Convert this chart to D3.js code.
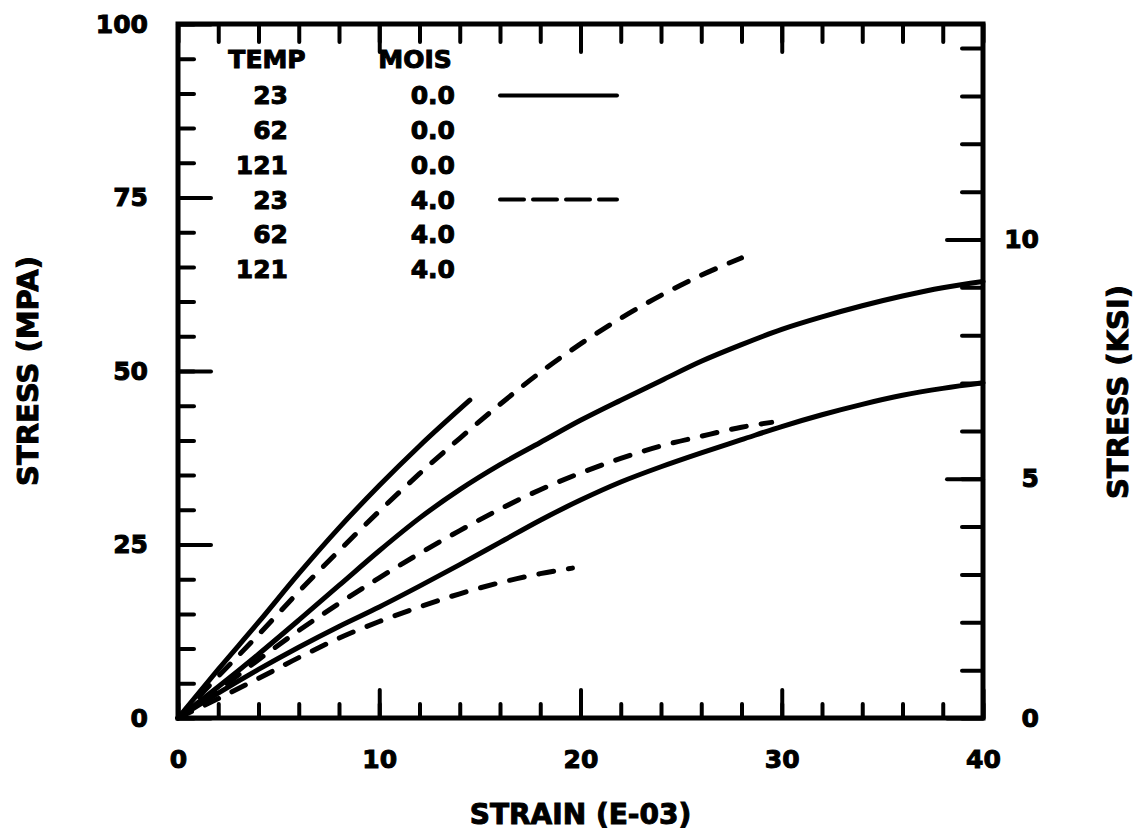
<!DOCTYPE html>
<html>
<head>
<meta charset="utf-8">
<script src="https://cdn.jsdelivr.net/npm/d3@7"></script>
<style>
  body { margin: 0; background: #fff; }
  svg text { font-family: "DejaVu Sans", sans-serif; font-weight: bold; fill: #000; stroke: #000; stroke-width: 1px; }
</style>
</head>
<body>
<svg id="chart" width="1141" height="837"></svg>
<script>
// ---------------- DATA ----------------
// each curve: [strain (E-03), stress (MPa)]
const temps = [23, 62, 121, 23, 62, 121];
const moisture = ["0.0", "0.0", "0.0", "4.0", "4.0", "4.0"];

const dry23 = [[0,0],[2,7],[4,13.8],[6,20.8],[8,27.4],[10,33.5],[12,39.2],[14.5,45.8]];
const dry62 = [[0,0],[2,4.5],[4,9.2],[6,14.1],[8,19.1],[10,24.1],[12,28.8],[14,32.9],[16,36.5],[18,39.7],[20,42.9],
  [22,45.8],[24,48.6],[26,51.4],[28,53.8],[30,56],[32,57.8],[34,59.4],[36,60.8],[38,62.0],[40,62.9]];
const dry121 = [[0,0],[2,3.6],[4,7],[6,10.2],[8,13.2],[10,16],[12,19],[14,22.1],[16,25.3],[18,28.5],[20,31.4],
  [22,34],[24,36.2],[26,38.2],[28,40.1],[30,42],[32,43.7],[34,45.2],[36,46.5],[38,47.5],[40,48.3]];
const wet23 = [[0,0],[2,6],[4,12],[6,18.2],[8,24.1],[10,29.8],[12,35.2],[14,40.3],[16,45.2],[18,49.8],
  [20,53.9],[22,57.6],[24,60.9],[26,63.8],[28,66.3]];
const wet62 = [[0,0],[2,4],[4,8.4],[6,12.6],[8,16.5],[10,20.2],[12,23.7],[14,27],[16,30.1],[18,32.9],
  [20,35.3],[22,37.4],[24,39.2],[26,40.6],[28,41.9],[29.5,42.6]];
const wet121 = [[0,0],[2,2.8],[4,5.7],[6,8.7],[8,11.5],[10,13.9],[12,16],[14,17.9],[16,19.5],[18,20.8],[19.6,21.6]];

const series = [
  { pts: dry23, dashed: false }, { pts: dry62, dashed: false }, { pts: dry121, dashed: false },
  { pts: wet23, dashed: true }, { pts: wet62, dashed: true }, { pts: wet121, dashed: true },
];

const xMajor = [0, 10, 20, 30, 40];
const xMinor = d3.range(0, 41, 2);
const yMajor = [0, 25, 50, 75, 100];
const yMinor = d3.range(0, 101, 5);
const ksiMajor = [0, 5, 10];
const ksiMinor = d3.range(0, 15, 1);

const MPA_PER_KSI = 6.894757;

// ---------------- SCALES ----------------
const svg = d3.select("#chart");
const mLeft = 178, mRight = 983, mTop = 24, mBottom = 718;

const x = d3.scaleLinear().domain([0, 40]).range([mLeft, mRight]);
const y = d3.scaleLinear().domain([0, 100]).range([mBottom, mTop]);
const yK = d3.scaleLinear().domain([0, 100 / MPA_PER_KSI]).range([mBottom, mTop]);

// ---------------- AXES (ticks point inward) ----------------
function styleAxis(g) {
  g.select(".domain").remove();
  g.attr("font-family", null).attr("font-size", 25);
  g.selectAll(".tick line").attr("stroke", "#000").attr("stroke-width", 4).attr("stroke-linecap", "round");
}

// bottom
svg.append("g").attr("transform", `translate(0,${mBottom})`)
  .call(d3.axisBottom(x).tickValues(xMinor).tickSize(-14).tickFormat("")).call(styleAxis);
svg.append("g").attr("transform", `translate(0,${mBottom})`)
  .call(d3.axisBottom(x).tickValues(xMajor).tickSize(-28).tickPadding(32).tickFormat(d3.format("d")))
  .call(styleAxis);

// top
svg.append("g").attr("transform", `translate(0,${mTop})`)
  .call(d3.axisBottom(x).tickValues(xMinor).tickSize(18).tickFormat("")).call(styleAxis);
svg.append("g").attr("transform", `translate(0,${mTop})`)
  .call(d3.axisBottom(x).tickValues(xMajor.slice(1, 4)).tickSize(28).tickFormat("")).call(styleAxis);

// left (MPa)
svg.append("g").attr("transform", `translate(${mLeft},0)`)
  .call(d3.axisLeft(y).tickValues(yMinor).tickSize(-16).tickFormat("")).call(styleAxis);
svg.append("g").attr("transform", `translate(${mLeft},0)`)
  .call(d3.axisLeft(y).tickValues(yMajor).tickSize(-33).tickPadding(30).tickFormat(d3.format("d")))
  .call(styleAxis);

// right (ksi)
svg.append("g").attr("transform", `translate(${mRight},0)`)
  .call(d3.axisRight(yK).tickValues(ksiMinor).tickSize(-21).tickFormat("")).call(styleAxis);
const rAx = svg.append("g").attr("transform", `translate(${mRight},0)`)
  .call(d3.axisRight(yK).tickValues(ksiMajor).tickSize(-36).tickFormat(d3.format("d")))
  .call(styleAxis);
rAx.selectAll(".tick text").attr("x", 56).attr("text-anchor", "end");

// frame
svg.append("rect")
  .attr("x", mLeft).attr("y", mTop)
  .attr("width", mRight - mLeft).attr("height", mBottom - mTop)
  .attr("fill", "none").attr("stroke", "#000").attr("stroke-width", 5);

// ---------------- CURVES ----------------
const line = d3.line()
  .x(d => x(d[0]))
  .y(d => y(d[1]))
  .curve(d3.curveMonotoneX);

svg.append("g").selectAll("path")
  .data(series)
  .join("path")
  .attr("d", d => line(d.pts))
  .attr("fill", "none")
  .attr("stroke", "#000")
  .attr("stroke-width", 5)
  .attr("stroke-linecap", "round")
  .attr("stroke-linejoin", "round")
  .attr("stroke-dasharray", d => d.dashed ? "15,15" : null);

// ---------------- LEGEND ----------------
const leg = svg.append("g").attr("font-size", 25);
const rowY = i => y(90 - 5 * i) + 2;

leg.append("text").attr("x", 267).attr("y", y(95)).attr("dy", "0.36em")
  .attr("text-anchor", "middle").text("TEMP");
leg.append("text").attr("x", 415).attr("y", y(95)).attr("dy", "0.36em")
  .attr("text-anchor", "middle").text("MOIS");

leg.selectAll(".temp").data(temps).join("text")
  .attr("class", "temp")
  .attr("x", 288).attr("y", (d, i) => rowY(i)).attr("dy", "0.36em")
  .attr("text-anchor", "end").text(d => d);

leg.selectAll(".mois").data(moisture).join("text")
  .attr("class", "mois")
  .attr("x", 455).attr("y", (d, i) => rowY(i)).attr("dy", "0.36em")
  .attr("text-anchor", "end").text(d => d);

leg.selectAll("line").data([0, 3]).join("line")
  .attr("x1", 500).attr("x2", 617)
  .attr("y1", i => rowY(i)).attr("y2", i => rowY(i))
  .attr("stroke", "#000").attr("stroke-width", 4)
  .attr("stroke-linecap", "round")
  .attr("stroke-dasharray", i => series[i].dashed ? "24,9" : null);

// ---------------- AXIS TITLES ----------------
svg.append("text")
  .attr("x", (mLeft + mRight) / 2).attr("y", 814).attr("dy", "0.36em")
  .attr("text-anchor", "middle").attr("font-size", 28)
  .text("STRAIN (E-03)");

svg.append("text")
  .attr("transform", `translate(28,${y(50)}) rotate(-90)`)
  .attr("dy", "0.36em").attr("text-anchor", "middle").attr("font-size", 29)
  .text("STRESS (MPA)");

svg.append("text")
  .attr("transform", `translate(1118,392) rotate(-90)`)
  .attr("dy", "0.36em").attr("text-anchor", "middle").attr("font-size", 29)
  .text("STRESS (KSI)");
</script>
</body>
</html>
